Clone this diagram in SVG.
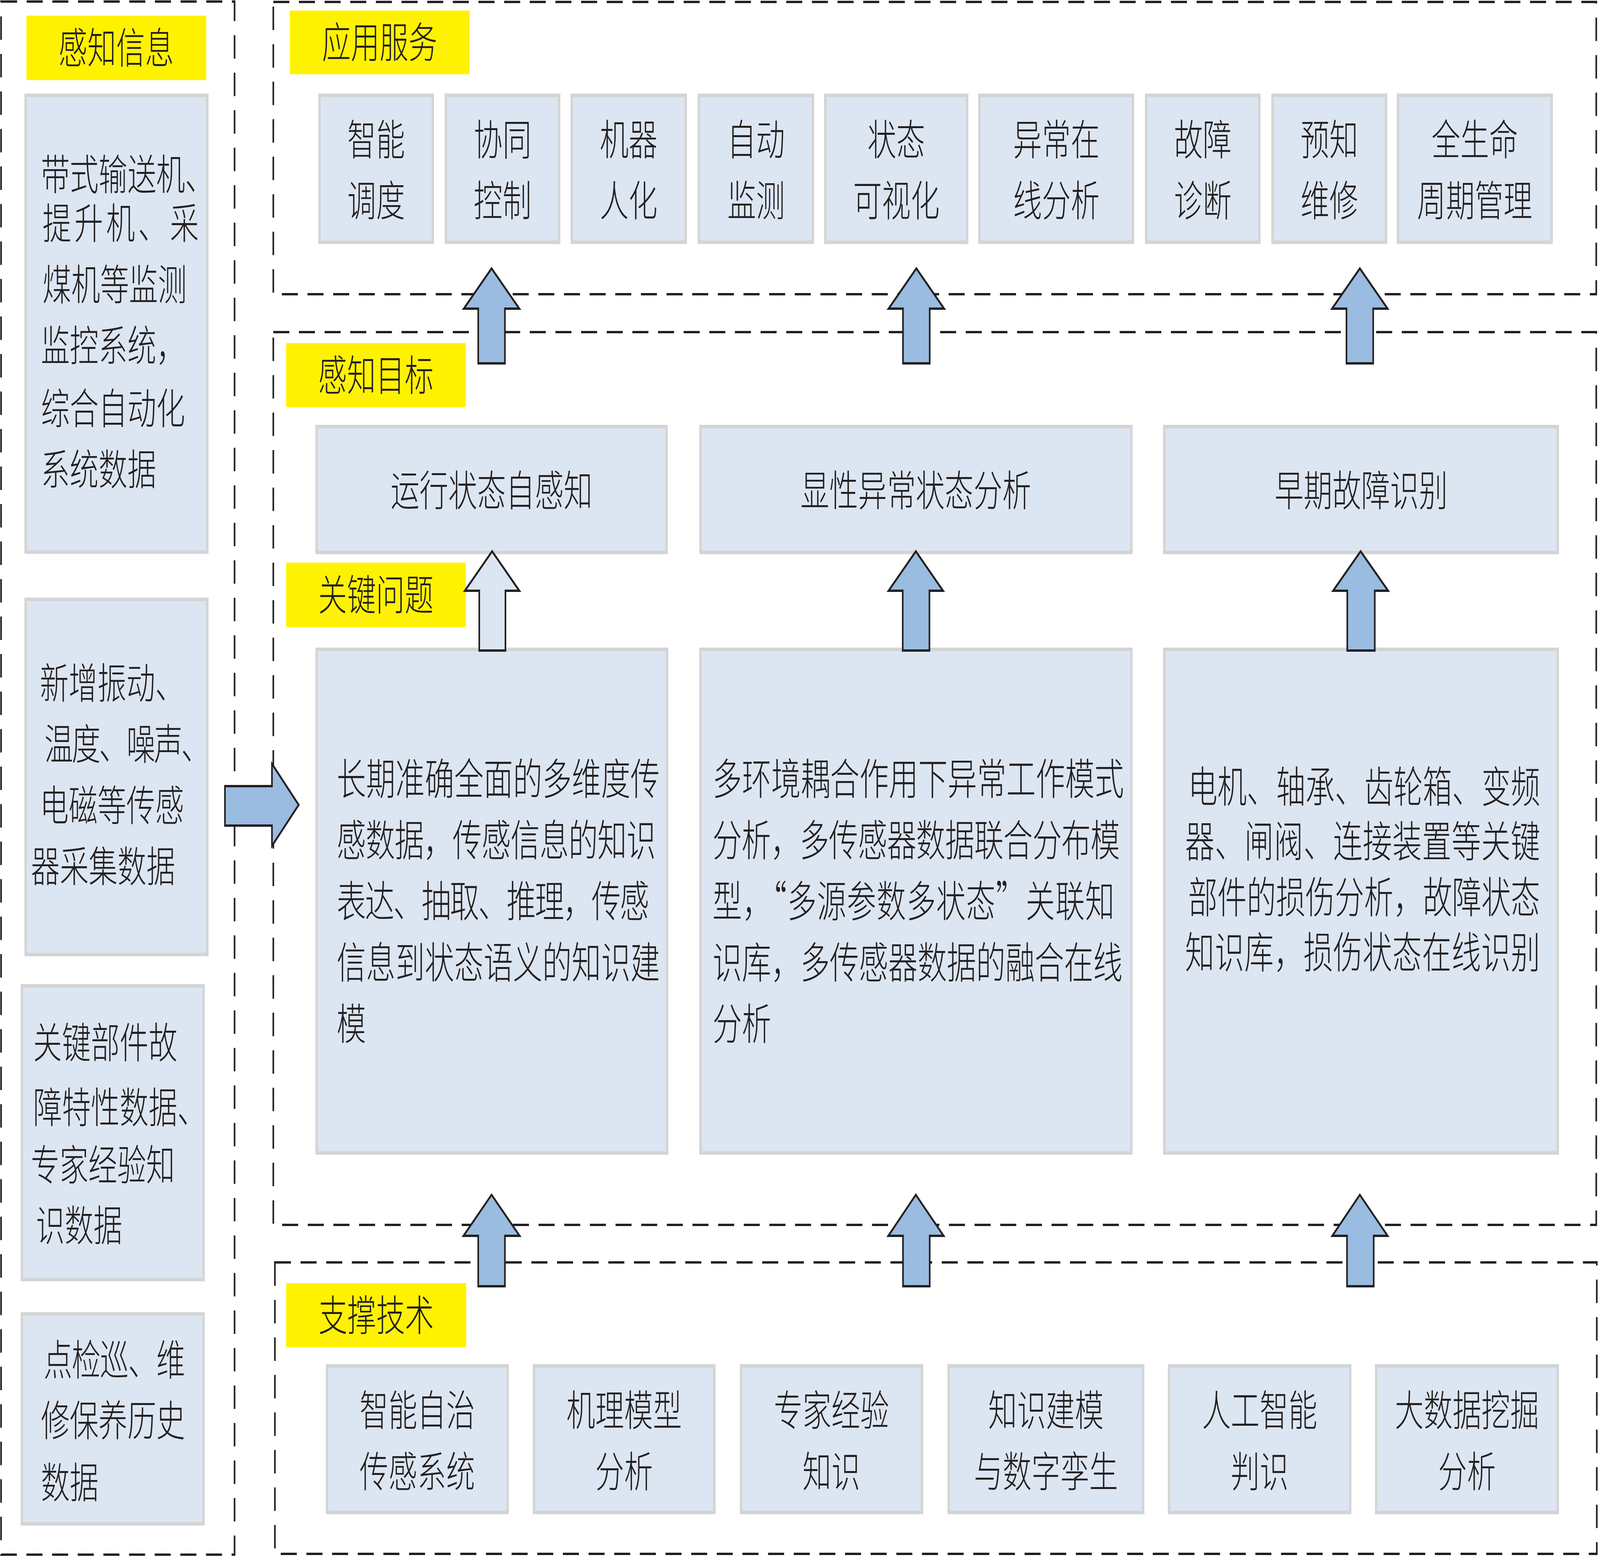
<svg xmlns="http://www.w3.org/2000/svg" width="5989" height="3985" viewBox="0 0 5989 3985" preserveAspectRatio="none" style="width:100vw;height:100vh;display:block">
<style>
.bg{fill:#ffffff}
.dash{fill:none;stroke:#231f20;stroke-width:6;stroke-dasharray:60 36}
.box{fill:#dce6f2;stroke:#d4d4d4;stroke-width:9}
.tag{fill:#fff200}
.t{font-family:"Noto Sans CJK SC","Noto Sans CJK TC",sans-serif;font-size:108px;fill:#231f20;font-weight:300}
.b{font-size:110px}
.c{text-anchor:middle}
.arw{fill:#99bce0;stroke:#231f20;stroke-width:6;stroke-linejoin:miter}
.arwl{fill:#dce6f2;stroke:#231f20;stroke-width:6;stroke-linejoin:miter}
</style>
<rect class="bg" x="0" y="0" width="5989" height="3985"/>

<g id="frames">
<rect class="dash" x="4" y="4" width="874" height="3975"/>
<rect class="dash" x="1023" y="5" width="4952" height="748"/>
<rect class="dash" x="1023" y="850" width="4952" height="2285"/>
<rect class="dash" x="1029" y="3231" width="4948" height="746"/>
</g>

<g id="tags">
<g id="tag-info"><rect class="tag" x="99" y="40" width="673" height="165"/><text class="t c" x="435" y="162">感知信息</text></g>
<g id="tag-service"><rect class="tag" x="1085" y="27" width="673" height="163"/><text class="t c" x="1421" y="148">应用服务</text></g>
<g id="tag-goal"><rect class="tag" x="1071" y="878" width="673" height="164"/><text class="t c" x="1407" y="1000">感知目标</text></g>
<g id="tag-problem"><rect class="tag" x="1071" y="1440" width="673" height="165"/><text class="t c" x="1407" y="1562">关键问题</text></g>
<g id="tag-support"><rect class="tag" x="1071" y="3284" width="674" height="164"/><text class="t c" x="1408" y="3406">支撑技术</text></g>
</g>

<g id="info1"><rect class="box" x="96" y="244" width="680" height="1169"/>
<text class="t" x="153" y="486">带式输送机、</text>
<text class="t" x="159" y="611" textLength="585" lengthAdjust="spacing">提升机、采</text>
<text class="t" x="159" y="768">煤机等监测</text>
<text class="t" x="153" y="924">监控系统，</text>
<text class="t" x="153" y="1085">综合自动化</text>
<text class="t" x="153" y="1241">系统数据</text>
</g>
<g id="info2"><rect class="box" x="96" y="1534" width="680" height="909"/>
<text class="t" x="149" y="1788">新增振动、</text>
<text class="t" x="166" y="1944" textLength="620" lengthAdjust="spacing">温度、噪声、</text>
<text class="t" x="149" y="2101">电磁等传感</text>
<text class="t" x="116" y="2257">器采集数据</text>
</g>
<g id="info3"><rect class="box" x="82" y="2523" width="680" height="752"/>
<text class="t" x="124" y="2708">关键部件故</text>
<text class="t" x="124" y="2874">障特性数据、</text>
<text class="t" x="115" y="3021">专家经验知</text>
<text class="t" x="134" y="3176">识数据</text>
</g>
<g id="info4"><rect class="box" x="82" y="3363" width="680" height="537"/>
<text class="t" x="163" y="3520" textLength="530" lengthAdjust="spacing">点检巡、维</text>
<text class="t" x="153" y="3675">修保养历史</text>
<text class="t" x="153" y="3834">数据</text>
</g>

<g id="svc1"><rect class="box" x="1196" y="244" width="424" height="376"/><text class="t c" x="1408" y="397">智能</text><text class="t c" x="1408" y="553">调度</text></g>
<g id="svc2"><rect class="box" x="1669" y="244" width="424" height="376"/><text class="t c" x="1881" y="397">协同</text><text class="t c" x="1881" y="553">控制</text></g>
<g id="svc3"><rect class="box" x="2140" y="244" width="427" height="376"/><text class="t c" x="2353" y="397">机器</text><text class="t c" x="2353" y="553">人化</text></g>
<g id="svc4"><rect class="box" x="2616" y="244" width="427" height="376"/><text class="t c" x="2830" y="397">自动</text><text class="t c" x="2830" y="553">监测</text></g>
<g id="svc5"><rect class="box" x="3089" y="244" width="531" height="376"/><text class="t c" x="3355" y="397">状态</text><text class="t c" x="3355" y="553">可视化</text></g>
<g id="svc6"><rect class="box" x="3666" y="244" width="575" height="376"/><text class="t c" x="3954" y="397">异常在</text><text class="t c" x="3954" y="553">线分析</text></g>
<g id="svc7"><rect class="box" x="4290" y="244" width="424" height="376"/><text class="t c" x="4502" y="397">故障</text><text class="t c" x="4502" y="553">诊断</text></g>
<g id="svc8"><rect class="box" x="4763" y="244" width="425" height="376"/><text class="t c" x="4976" y="397">预知</text><text class="t c" x="4976" y="553">维修</text></g>
<g id="svc9"><rect class="box" x="5233" y="244" width="575" height="376"/><text class="t c" x="5520" y="397">全生命</text><text class="t c" x="5520" y="553">周期管理</text></g>

<g id="goal1"><rect class="box" x="1185" y="1092" width="1310" height="322"/><text class="t c" x="1840" y="1295">运行状态自感知</text></g>
<g id="goal2"><rect class="box" x="2622" y="1092" width="1613" height="322"/><text class="t c" x="3428" y="1295">显性异常状态分析</text></g>
<g id="goal3"><rect class="box" x="4358" y="1092" width="1473" height="322"/><text class="t c" x="5095" y="1295">早期故障识别</text></g>

<g id="prob1"><rect class="box" x="1185" y="1662" width="1312" height="1289"/>
<text class="t b" x="1260" y="2034" textLength="1210" lengthAdjust="spacing">长期准确全面的多维度传</text>
<text class="t b" x="1260" y="2191" textLength="1195" lengthAdjust="spacing">感数据，传感信息的知识</text>
<text class="t b" x="1260" y="2347" textLength="1170" lengthAdjust="spacing">表达、抽取、推理，传感</text>
<text class="t b" x="1260" y="2504" textLength="1210" lengthAdjust="spacing">信息到状态语义的知识建</text>
<text class="t b" x="1260" y="2661">模</text>
</g>
<g id="prob2"><rect class="box" x="2622" y="1662" width="1613" height="1289"/>
<text class="t b" x="2667" y="2034" textLength="1540" lengthAdjust="spacing">多环境耦合作用下异常工作模式</text>
<text class="t b" x="2667" y="2191" textLength="1525" lengthAdjust="spacing">分析，多传感器数据联合分布模</text>
<text class="t b" x="2667" y="2347" textLength="1505" lengthAdjust="spacing">型，“多源参数多状态”关联知</text>
<text class="t b" x="2667" y="2504" textLength="1535" lengthAdjust="spacing">识库，多传感器数据的融合在线</text>
<text class="t b" x="2667" y="2661">分析</text>
</g>
<g id="prob3"><rect class="box" x="4358" y="1662" width="1473" height="1289"/>
<text class="t b" x="4447" y="2054" textLength="1318" lengthAdjust="spacing">电机、轴承、齿轮箱、变频</text>
<text class="t b" x="4436" y="2194" textLength="1329" lengthAdjust="spacing">器、闸阀、连接装置等关键</text>
<text class="t b" x="4447" y="2337" textLength="1318" lengthAdjust="spacing">部件的损伤分析，故障状态</text>
<text class="t b" x="4436" y="2478" textLength="1329" lengthAdjust="spacing">知识库，损伤状态在线识别</text>
</g>

<g id="sup1"><rect class="box" x="1224" y="3496" width="676" height="375"/><text class="t c" x="1562" y="3649">智能自治</text><text class="t c" x="1562" y="3806">传感系统</text></g>
<g id="sup2"><rect class="box" x="1999" y="3496" width="675" height="375"/><text class="t c" x="2336" y="3649">机理模型</text><text class="t c" x="2336" y="3806">分析</text></g>
<g id="sup3"><rect class="box" x="2774" y="3496" width="677" height="375"/><text class="t c" x="3112" y="3649">专家经验</text><text class="t c" x="3112" y="3806">知识</text></g>
<g id="sup4"><rect class="box" x="3551" y="3496" width="728" height="375"/><text class="t c" x="3915" y="3649">知识建模</text><text class="t c" x="3915" y="3806">与数字孪生</text></g>
<g id="sup5"><rect class="box" x="4376" y="3496" width="678" height="375"/><text class="t c" x="4715" y="3649">人工智能</text><text class="t c" x="4715" y="3806">判识</text></g>
<g id="sup6"><rect class="box" x="5151" y="3496" width="680" height="375"/><text class="t c" x="5491" y="3649">大数据挖掘</text><text class="t c" x="5491" y="3806">分析</text></g>

<g id="connectors">
<polygon class="arw" points="1840,687 1944,790 1890,790 1890,930 1790,930 1790,790 1736,790"/>
<polygon class="arw" points="3430,687 3534,790 3480,790 3480,930 3380,930 3380,790 3326,790"/>
<polygon class="arw" points="5090,687 5194,790 5140,790 5140,930 5040,930 5040,790 4986,790"/>
<polygon class="arwl" points="1842,1411 1944,1512 1892,1512 1892,1665 1794,1665 1794,1512 1740,1512"/>
<polygon class="arw" points="3428,1411 3530,1512 3479,1512 3479,1665 3379,1665 3379,1512 3326,1512"/>
<polygon class="arw" points="5093,1411 5196,1512 5146,1512 5146,1665 5043,1665 5043,1512 4990,1512"/>
<polygon class="arw" points="1840,3058 1945,3163 1890,3163 1890,3292 1790,3292 1790,3163 1735,3163"/>
<polygon class="arw" points="3428,3058 3532,3163 3480,3163 3480,3292 3380,3292 3380,3163 3325,3163"/>
<polygon class="arw" points="5090,3058 5194,3163 5142,3163 5142,3292 5042,3292 5042,3163 4987,3163"/>
<polygon class="arw" points="842,2012 1018,2012 1018,1955 1118,2060 1018,2165 1018,2113 842,2113"/>
</g>
</svg>
